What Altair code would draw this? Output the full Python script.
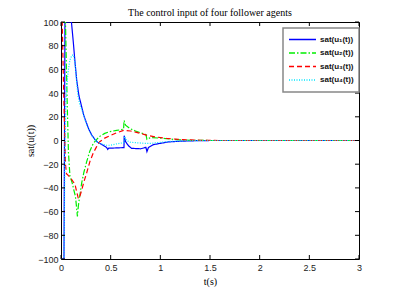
import altair as alt
import pandas as pd

labels = ["sat(u\u2081(t))", "sat(u\u2082(t))", "sat(u\u2083(t))", "sat(u\u2084(t))"]
colors = ["#0000ff", "#00ee00", "#ff0000", "#00e5ff"]
dashes = [[1, 0], [6, 2, 1.5, 2], [5, 3], [1, 1.5]]

t1 = [0, 0.03, 0.04, 0.105, 0.125, 0.141, 0.158, 0.18, 0.208, 0.23, 0.258, 0.28, 0.31, 0.34, 0.37,
      0.42, 0.46, 0.47, 0.48, 0.55, 0.634, 0.636, 0.65, 0.68, 0.71, 0.8, 0.855, 0.865, 0.88, 0.93,
      1.0, 1.08, 1.2, 1.35, 1.5, 3.0]
u1 = [-100, -100, 100, 100, 82, 66, 51, 38, 28.5, 21, 14.5, 9.5, 4.6, 1, -1.5,
      -3.8, -6, -7.5, -6.5, -6.3, -6, 4, -1, -4.5, -6.6, -7, -5.8, -9.4, -6, -3.5,
      -2.4, -1.2, -0.6, -0.2, 0, 0]

t2 = [0, 0.045, 0.06, 0.075, 0.09, 0.11, 0.13, 0.145, 0.155, 0.165, 0.175, 0.19, 0.208, 0.23,
      0.258, 0.29, 0.325, 0.36, 0.39, 0.44, 0.49, 0.56, 0.63, 0.635, 0.65, 0.695, 0.75, 0.8,
      0.855, 0.865, 0.9, 1.0, 1.1, 1.2, 1.3, 1.5, 3.0]
u2 = [100, 100, 40, -10, -30, -35, -42, -47, -55, -64, -55, -46, -36, -27,
      -18, -9, -2.5, 1, 3.5, 6, 7.5, 8.5, 9.5, 17, 13, 10, 8, 6.5,
      5, 1, 2.5, 2, 1.2, 0.6, 0.2, 0, 0]

t3 = [0, 0.012, 0.03, 0.045, 0.055, 0.08, 0.108, 0.141, 0.16, 0.175, 0.19, 0.208, 0.23, 0.258,
      0.29, 0.325, 0.36, 0.39, 0.44, 0.49, 0.56, 0.63, 0.7, 0.73, 0.8, 0.86, 0.95, 1.06, 1.2,
      1.4, 1.6, 3.0]
u3 = [100, 100, 30, -20, -28, -30, -33, -37, -44, -49, -47, -42, -35, -27.5,
      -18, -10.5, -5, -1, 2, 4, 6.5, 8.5, 8, 7.5, 6, 4.5, 3, 1.8, 0.8,
      0.2, 0, 0]

t4 = [0, 0.03, 0.04, 0.05, 0.06, 0.075, 0.09, 0.11, 0.125, 0.14, 0.155, 0.17, 0.19, 0.21, 0.26,
      0.31, 0.36, 0.4, 0.45, 0.5, 0.55, 0.62, 0.634, 0.64, 0.66, 0.7, 0.78, 0.86, 0.9, 1.0,
      1.1, 1.2, 1.4, 3.0]
u4 = [-100, -100, -10, 35, 48, 60, 68, 72, 72, 66, 52, 38, 30, 26, 13,
      4, -1, -2.5, -4, -4, -3, -2, -1.5, 3.5, 0, -1.5, -2, -2.5, -2.5, -1.5,
      -0.7, -0.3, 0, 0]

x_ticks = [0, 0.5, 1, 1.5, 2, 2.5, 3]
y_ticks = [-100, -80, -60, -40, -20, 0, 20, 40, 60, 80, 100]

rows = []
for lab, ts, us in zip(labels, [t1, t2, t3, t4], [u1, u2, u3, u4]):
    for i, (t, u) in enumerate(zip(ts, us)):
        rows.append({"agent": lab, "t": t, "u": u, "i": i})
df = pd.DataFrame(rows)

W, H = 298, 237

xs = alt.Scale(domain=[0, 3], nice=False)
ys = alt.Scale(domain=[-100, 100], nice=False)
xaxis = alt.Axis(values=x_ticks, ticks=False, domain=False, grid=False, format="~g",
                 labelPadding=4, titlePadding=4, labelFlush=False, labelOverlap=False)
yaxis = alt.Axis(values=y_ticks, ticks=False, domain=False, grid=False,
                 labelPadding=3, titlePadding=2, labelOverlap=False)

leg = dict(title=None, orient="none", legendX=222, legendY=6,
           symbolType="stroke", symbolSize=729, symbolStrokeWidth=1.3,
           clipHeight=13, rowPadding=0.5, padding=5,
           labelFont="Liberation Sans", labelFontSize=8,
           labelFontWeight="bold", labelColor="#111", labelOffset=3,
           fillColor="white", strokeColor="#888")

lines = alt.Chart(df).mark_line(strokeWidth=1.2, clip=True).encode(
    x=alt.X("t:Q", scale=xs, title="t(s)", axis=xaxis),
    y=alt.Y("u:Q", scale=ys, title="sat(u(t))", axis=yaxis),
    color=alt.Color("agent:N", scale=alt.Scale(domain=labels, range=colors),
                    legend=alt.Legend(**leg)),
    strokeDash=alt.StrokeDash("agent:N", scale=alt.Scale(domain=labels, range=dashes),
                              legend=alt.Legend(**leg)),
    order="i:Q",
)

xt = pd.DataFrame({"t": x_ticks})
yt = pd.DataFrame({"u": y_ticks})

bot = alt.Chart(xt).mark_rule(color="black", strokeWidth=1).encode(
    x=alt.X("t:Q", scale=xs, title="t(s)", axis=xaxis), y=alt.value(H), y2=alt.value(H - 4))
top = alt.Chart(xt).mark_rule(color="black", strokeWidth=1).encode(
    x=alt.X("t:Q", scale=xs, title="t(s)", axis=xaxis), y=alt.value(0), y2=alt.value(4))
left = alt.Chart(yt).mark_rule(color="black", strokeWidth=1).encode(
    y=alt.Y("u:Q", scale=ys, title="sat(u(t))", axis=yaxis), x=alt.value(0), x2=alt.value(4))
right = alt.Chart(yt).mark_rule(color="black", strokeWidth=1).encode(
    y=alt.Y("u:Q", scale=ys, title="sat(u(t))", axis=yaxis), x=alt.value(W), x2=alt.value(W - 4))

chart = alt.layer(lines, bot, top, left, right).properties(
    width=W, height=H,
    title=alt.Title("The control input of four follower agents", font="Liberation Serif",
                    fontSize=10, fontWeight="normal", color="#000", offset=0,
                    frame="group"),
    autosize=alt.AutoSizeParams(type="none"),
    padding={"left": 53, "top": 14, "right": 43, "bottom": 34},
).configure(background="white").configure_view(
    stroke="black", strokeWidth=1
).configure_axis(
    labelFont="Liberation Sans", labelFontSize=9, labelColor="#222",
    titleFont="Liberation Serif", titleFontSize=10, titleFontWeight="normal", titleColor="#000",
).configure_legend(strokeWidth=1.5)

chart.save("out.html", embed_options={"renderer": "svg", "actions": False})
